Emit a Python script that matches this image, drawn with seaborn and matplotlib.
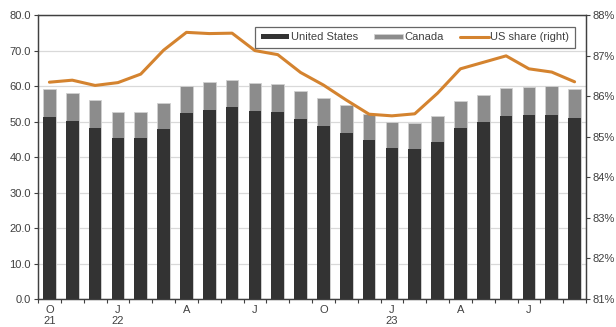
import numpy as np
import pandas as pd
import matplotlib
matplotlib.use('Agg')
import matplotlib.pyplot as plt
from matplotlib.ticker import FixedLocator, FuncFormatter
import seaborn as sns

sns.set_theme(style='white')
plt.rcParams['font.family'] = ['Liberation Sans', 'DejaVu Sans']

months = ['Oct-21', 'Nov-21', 'Dec-21', 'Jan-22', 'Feb-22', 'Mar-22',
          'Apr-22', 'May-22', 'Jun-22', 'Jul-22', 'Aug-22', 'Sep-22',
          'Oct-22', 'Nov-22', 'Dec-22', 'Jan-23', 'Feb-23', 'Mar-23',
          'Apr-23', 'May-23', 'Jun-23', 'Jul-23', 'Aug-23', 'Sep-23']
united_states = [51.2, 50.1, 48.3, 45.4, 45.5, 48.0, 52.5, 53.3, 54.2, 52.9,
                 52.7, 50.7, 48.8, 46.8, 44.9, 42.6, 42.2, 44.2, 48.3, 49.9,
                 51.6, 51.8, 51.9, 51.1]
total = [59.3, 58.1, 56.1, 52.7, 52.7, 55.2, 60.1, 61.1, 61.9, 60.8, 60.6,
         58.6, 56.7, 54.6, 52.3, 49.8, 49.5, 51.5, 55.8, 57.6, 59.4, 59.8,
         60.0, 59.2]
us_share = [86.35, 86.40, 86.27, 86.34, 86.55, 87.14, 87.58, 87.55, 87.56,
            87.13, 87.03, 86.59, 86.28, 85.91, 85.56, 85.52, 85.57, 86.08,
            86.68, 86.84, 87.00, 86.68, 86.60, 86.36]
tick_labels = ['O\n21', '', '', 'J\n22', '', '', 'A', '', '', 'J', '', '',
               'O', '', '', 'J\n23', '', '', 'A', '', '', 'J', '', '']

df = pd.DataFrame({'month': months, 'us': united_states, 'total': total,
                   'share': us_share, 'pos': np.arange(len(months))})

dark = '#333333'
grey = '#8c8c8c'
orange = '#d4832f'
text_col = '#404040'

fig = plt.figure(figsize=(6.16, 3.27), dpi=100)
ax = fig.add_axes([0.0617, 0.0856, 0.8896, 0.8675])

# grey bar = total (US + Canada), dark bar on top = US
sns.barplot(data=df, x='month', y='total', color=grey, saturation=1,
            width=0.56, edgecolor='#d0d0d0', linewidth=0.6, label='Canada',
            ax=ax, zorder=2)
sns.barplot(data=df, x='month', y='us', color=dark, saturation=1,
            width=0.56, linewidth=0, label='United States', ax=ax, zorder=3)

ax.set_ylim(0, 80)
ax.set_xlim(-0.5, len(months) - 0.5)
ax.set_yticks(np.arange(0, 81, 10))
ax.yaxis.set_major_formatter(FuncFormatter(lambda v, p: f'{v:.1f}'))
ax.grid(axis='y', color='#d9d9d9', linewidth=0.9, zorder=0)
ax.set_axisbelow(True)
ax.set_xlabel('')
ax.set_ylabel('')

ax.xaxis.set_major_locator(FixedLocator(np.arange(len(months))))
ax.set_xticklabels(tick_labels, linespacing=1.15)
ax.xaxis.set_minor_locator(FixedLocator(np.arange(-0.5, len(months), 1)))
ax.tick_params(axis='x', which='major', length=0, pad=4,
               labelsize=8, labelcolor=text_col)
ax.tick_params(axis='x', which='minor', length=3, width=0.8,
               color=text_col, direction='out', bottom=True)
ax.tick_params(axis='y', length=3, width=0.8, color=text_col, left=True,
               labelsize=8, labelcolor=text_col, pad=2)

ax2 = ax.twinx()
sns.lineplot(data=df, x='pos', y='share', color=orange, linewidth=2.2,
             label='US share (right)', ax=ax2, zorder=4)
ax2.set_ylim(81, 88)
ax2.set_yticks(np.arange(81, 89, 1))
ax2.yaxis.set_major_formatter(FuncFormatter(lambda v, p: f'{v:.0f}%'))
ax2.set_ylabel('')
ax2.set_xlabel('')
ax2.tick_params(axis='y', length=3, width=0.8, color=text_col, right=True,
                labelsize=8, labelcolor=text_col, pad=2)
ax2.set_xlim(-0.5, len(months) - 0.5)

for a in (ax, ax2):
    for s in a.spines.values():
        s.set_color('#404040')
        s.set_linewidth(0.9)

h1, l1 = ax.get_legend_handles_labels()
h2, l2 = ax2.get_legend_handles_labels()
if ax.get_legend() is not None:
    ax.get_legend().remove()
if ax2.get_legend() is not None:
    ax2.get_legend().remove()
handles = dict(zip(l1 + l2, h1 + h2))
order = ['United States', 'Canada', 'US share (right)']
leg = ax2.legend([handles[k] for k in order], order, ncol=3,
                 loc='upper right', bbox_to_anchor=(0.99, 0.98),
                 frameon=True, fancybox=False, edgecolor='#404040',
                 fontsize=8, handlelength=2.6, handleheight=0.35,
                 handletextpad=0.1, columnspacing=1.5, borderpad=0.5,
                 labelcolor=text_col)
leg.get_frame().set_linewidth(0.9)

fig.savefig('out.png', dpi=100)
